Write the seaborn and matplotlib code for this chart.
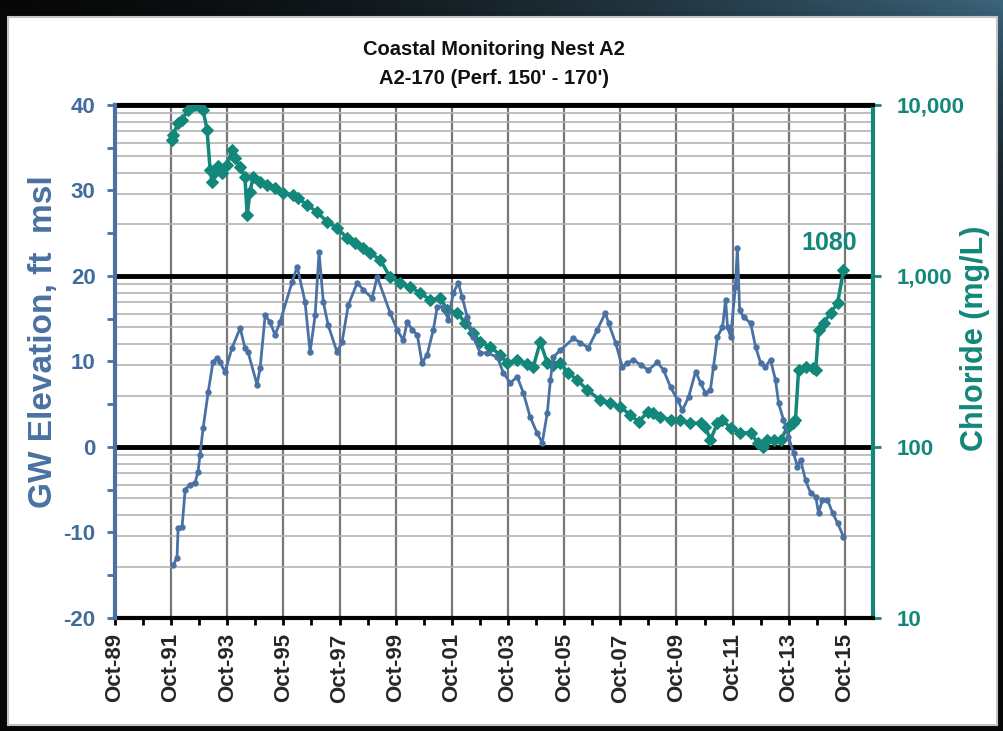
import numpy as np
import matplotlib
matplotlib.use("Agg")
import matplotlib.pyplot as plt
from matplotlib.patches import Rectangle
from matplotlib.ticker import FixedLocator, NullFormatter, LogLocator
import seaborn as sns

# groundwater elevation (ft msl), decimal years
gw_year = [1991.82, 1991.96, 1992.00, 1992.14, 1992.25, 1992.42, 1992.60, 1992.71, 1992.78, 1992.89,
           1993.07, 1993.24, 1993.39, 1993.49, 1993.67, 1993.92, 1994.21, 1994.38, 1994.49, 1994.81,
           1994.92, 1995.10, 1995.28, 1995.45, 1995.63, 1996.06, 1996.24, 1996.52, 1996.70, 1996.88,
           1997.02, 1997.17, 1997.34, 1997.66, 1997.84, 1998.06, 1998.38, 1998.59, 1998.91, 1999.09,
           1999.55, 1999.80, 2000.02, 2000.16, 2000.34, 2000.52, 2000.69, 2000.87, 2001.09, 2001.23,
           2001.44, 2001.62, 2001.80, 2001.98, 2002.12, 2002.30, 2002.51, 2002.76, 2003.01, 2003.37,
           2003.58, 2003.83, 2004.08, 2004.30, 2004.54, 2004.79, 2004.97, 2005.15, 2005.26, 2005.36,
           2005.61, 2006.08, 2006.33, 2006.61, 2006.93, 2007.22, 2007.33, 2007.58, 2007.82, 2008.00,
           2008.22, 2008.47, 2008.75, 2009.07, 2009.29, 2009.54, 2009.79, 2009.96, 2010.18, 2010.43,
           2010.61, 2010.78, 2010.96, 2011.07, 2011.21, 2011.39, 2011.50, 2011.57, 2011.68, 2011.85,
           2011.92, 2012.00, 2012.14, 2012.39, 2012.57, 2012.75, 2012.92, 2013.10, 2013.28, 2013.39,
           2013.56, 2013.74, 2013.92, 2014.06, 2014.17, 2014.35, 2014.53, 2014.71, 2014.81, 2014.95,
           2015.13, 2015.31, 2015.49, 2015.70]
gw_ft = [-13.8, -13.0, -9.5, -9.4, -5.0, -4.4, -4.2, -2.9, -0.9, 2.2,
         6.4, 9.9, 10.4, 9.9, 8.8, 11.6, 13.9, 11.6, 11.1, 7.3,
         9.2, 15.4, 14.6, 13.1, 14.6, 19.3, 21.1, 17.0, 11.1, 15.4,
         22.8, 17.0, 14.3, 11.1, 12.3, 16.6, 19.2, 18.4, 17.4, 19.9,
         15.7, 13.7, 12.5, 14.6, 13.7, 13.1, 9.8, 10.8, 13.7, 16.4,
         16.4, 14.9, 18.0, 19.2, 17.5, 15.2, 12.9, 11.0, 11.0, 10.5,
         8.7, 7.5, 8.2, 6.3, 3.5, 1.6, 0.5, 4.0, 7.8, 10.5,
         11.3, 12.7, 12.2, 11.6, 13.7, 15.7, 14.5, 12.2, 9.4, 9.8,
         10.2, 9.6, 9.0, 9.9, 9.0, 7.0, 5.5, 4.3, 5.8, 8.8,
         7.5, 6.3, 6.7, 9.4, 12.9, 14.0, 17.2, 14.0, 12.9, 18.7,
         23.3, 16.0, 15.2, 14.5, 11.7, 9.8, 9.4, 10.2, 7.8, 5.1,
         3.2, 1.2, -0.7, -2.3, -1.5, -3.9, -5.4, -5.8, -7.7, -6.2,
         -6.2, -7.7, -8.9, -10.5]

# chloride (mg/L), decimal years
cl_year = [1991.78, 1991.82, 1992.00, 1992.14, 1992.35, 1992.60, 1992.78, 1992.89, 1993.03, 1993.14,
           1993.21, 1993.32, 1993.42, 1993.56, 1993.74, 1993.92, 1994.03, 1994.21, 1994.38, 1994.46,
           1994.56, 1994.67, 1994.92, 1995.17, 1995.45, 1995.74, 1996.10, 1996.27, 1996.59, 1996.95,
           1997.31, 1997.66, 1998.02, 1998.31, 1998.59, 1998.84, 1999.20, 1999.55, 1999.91, 2000.27,
           2000.62, 2000.98, 2001.34, 2001.59, 2001.94, 2002.23, 2002.51, 2002.76, 2003.12, 2003.48,
           2003.72, 2004.08, 2004.44, 2004.65, 2004.90, 2005.15, 2005.36, 2005.61, 2005.90, 2006.22,
           2006.58, 2007.04, 2007.40, 2007.75, 2008.11, 2008.40, 2008.72, 2008.93, 2009.18, 2009.54,
           2009.89, 2010.25, 2010.61, 2010.78, 2010.96, 2011.21, 2011.39, 2011.68, 2012.03, 2012.39,
           2012.64, 2012.82, 2012.99, 2013.21, 2013.46, 2013.71, 2013.89, 2013.99, 2014.10, 2014.35,
           2014.60, 2014.71, 2014.81, 2014.99, 2015.24, 2015.49, 2015.70]
cl_mgl = [6240, 6680, 7850, 8170, 9350, 10000, 9730, 9350, 7140, 4170,
          3545, 4060, 4400, 4000, 4460, 5455, 4900, 4340, 3795, 2275,
          3100, 3795, 3545, 3405, 3270, 3055, 2975, 2860, 2600, 2367,
          2070, 1910, 1668, 1560, 1458, 1364, 1242, 986, 910, 862,
          796, 724, 743, 633, 608, 531, 464, 411, 384, 345,
          310, 323, 306, 294, 411, 310, 302, 310, 271, 246,
          215, 188, 181, 171, 154, 140, 160, 158, 150, 144,
          144, 138, 138, 131, 110, 138, 144, 129, 121, 121,
          106, 100, 110, 110, 110, 131, 138, 144, 282, 294,
          290, 282, 483, 531, 608, 695, 1080]

tick_years = [1989.75 + 2 * i for i in range(14)]
tick_labels = ["Oct-%02d" % ((1989 + 2 * i) % 100) for i in range(14)]
minor_years = [1990.75 + 2 * i for i in range(13)]
cl_ticks = [10, 100, 1000, 10000]
cl_labels = ["10", "100", "1,000", "10,000"]
gw_ticks = [-20, -10, 0, 10, 20, 30, 40]

sns.set_style("white")
plt.rcParams["font.family"] = ["Liberation Sans", "DejaVu Sans"]

blue = "#4a71a3"
blue_txt = "#416d9e"
teal = "#13877a"

fig = plt.figure(figsize=(10.04, 7.31), dpi=100)

# dark frame and white panel behind the chart
bg = fig.add_axes([0, 0, 1, 1], zorder=-10)
bg.axis("off")
gx = np.linspace(0, 1, 200)[None, :]
gy = np.linspace(0, 1, 120)[:, None]
shade = np.clip(gx ** 1.6 * (1 - gy) ** 4, 0, 1)
img = shade[..., None] * np.array([0.20, 0.36, 0.45]) + 0.03
bg.imshow(img, aspect="auto", extent=[0, 1, 0, 1], origin="upper")
bg.set_xlim(0, 1)
bg.set_ylim(0, 1)
bg.add_patch(Rectangle((0.008, 0.008), 0.985, 0.969, facecolor="white",
                       edgecolor="#c4c4c4", lw=1.5))

axc = fig.add_axes([0.1145, 0.1546, 0.755, 0.7018])
axc.patch.set_alpha(0)
axg = axc.twinx()

# chloride axis (log, right side)
axc.set_yscale("log")
axc.set_ylim(10, 10000)
axc.set_xlim(1989.75, 2016.75)
axc.yaxis.tick_right()
axc.yaxis.set_label_position("right")
axc.yaxis.set_major_locator(FixedLocator(cl_ticks))
axc.set_yticklabels(cl_labels)
axc.yaxis.set_minor_locator(LogLocator(base=10, subs=np.arange(2, 10)))
axc.yaxis.set_minor_formatter(NullFormatter())
axc.grid(which="minor", axis="y", color="#b4b4b4", lw=1.2)
axc.grid(which="major", axis="y", color="black", lw=3.5)
axc.xaxis.set_major_locator(FixedLocator(tick_years))
axc.xaxis.set_minor_locator(FixedLocator(minor_years))
axc.set_xticklabels(tick_labels, rotation=90, fontsize=16, fontweight="bold")
axc.grid(which="major", axis="x", color="#777777", lw=1.6)
axc.tick_params(axis="x", which="both", direction="out", length=5, width=2,
                color="black", bottom=True, pad=6)
axc.tick_params(axis="y", which="major", direction="out", length=6, width=2,
                color=teal, labelcolor=teal, labelsize=16, pad=11, right=True)
axc.tick_params(axis="y", which="minor", length=0)
for lab in axc.get_yticklabels():
    lab.set_fontweight("bold")
axc.set_ylabel("Chloride (mg/L)", color=teal, fontsize=22, fontweight="bold",
               rotation=90)
axc.yaxis.set_label_coords(1.115, 0.546)
axc.set_xlabel("")

sns.lineplot(x=cl_year, y=cl_mgl, ax=axc, color=teal, lw=2.5, marker="D",
             markersize=6, markeredgecolor=teal, sort=False, estimator=None, zorder=3)

# groundwater axis (linear, left side)
axg.set_ylim(-20, 40)
axg.yaxis.tick_left()
axg.yaxis.set_label_position("left")
axg.set_yticks(gw_ticks)
axg.set_yticklabels([str(v) for v in gw_ticks])
axg.yaxis.set_minor_locator(FixedLocator([-15, -5, 5, 15, 25, 35]))
axg.tick_params(axis="y", which="both", direction="out", length=6, width=2,
                color=blue, labelcolor=blue_txt, labelsize=16, pad=8, left=True)
for lab in axg.get_yticklabels():
    lab.set_fontweight("bold")
axg.set_ylabel("GW Elevation, ft  msl", color=blue, fontsize=24, fontweight="bold")
axg.yaxis.set_label_coords(-0.074, 0.538)

sns.lineplot(x=gw_year, y=gw_ft, ax=axg, color=blue, lw=2.0, marker="o",
             markersize=3.8, markeredgecolor=blue, sort=False, estimator=None, zorder=4)
axg.set_xlim(1989.75, 2016.75)

for ax in (axc, axg):
    for s in ax.spines.values():
        s.set_visible(False)
axc.spines["bottom"].set_visible(True)
axc.spines["bottom"].set_color("black")
axc.spines["bottom"].set_linewidth(3)
axc.spines["top"].set_visible(True)
axc.spines["top"].set_color("black")
axc.spines["top"].set_linewidth(3)
axc.spines["right"].set_visible(True)
axc.spines["right"].set_color(teal)
axc.spines["right"].set_linewidth(3)
axg.spines["left"].set_visible(True)
axg.spines["left"].set_color(blue)
axg.spines["left"].set_linewidth(3)

axc.annotate("1080", xy=(2015.2, 1560), ha="center", va="center", color=teal,
             fontsize=18, fontweight="bold")

axc.set_title("Coastal Monitoring Nest A2\nA2-170 (Perf. 150' - 170')",
              fontsize=14.5, fontweight="bold", color="#111111", pad=15,
              linespacing=1.65)

fig.savefig("out.png", dpi=100)
